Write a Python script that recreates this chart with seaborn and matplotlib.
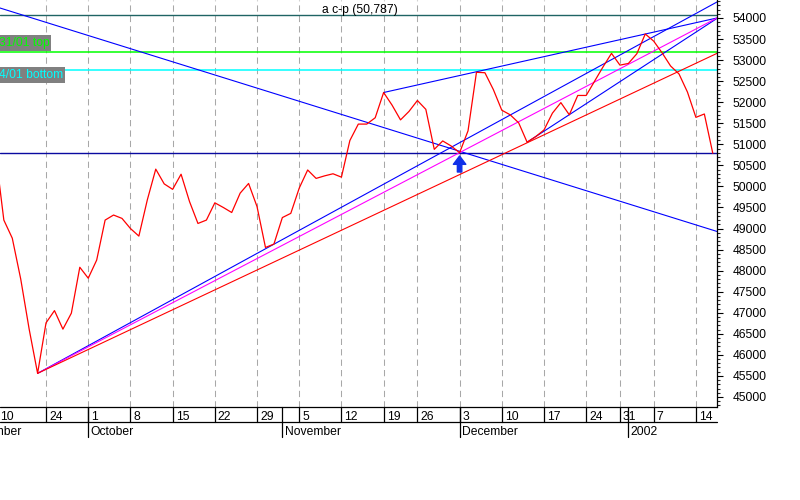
import numpy as np
import pandas as pd
import matplotlib
matplotlib.use("Agg")
import matplotlib.pyplot as plt
import matplotlib.transforms as mtransforms
import seaborn as sns

# ---------------- data ----------------
holidays = ["2001-11-22", "2001-12-25", "2002-01-01"]
first_day = ["2001-09-10"]
closes = [50830,
          49200, 48770, 47800, 46610, 45560,
          46760, 47050, 46610, 46990, 48080,
          47820, 48250, 49200, 49320, 49240,
          49000, 48820, 49680, 50410, 50060,
          49930, 50290, 49640, 49120, 49200,
          49610, 49500, 49380, 49840, 50070,
          49520, 48550, 48630, 49260, 49360,
          49960, 50390, 50190, 50250, 50300,
          50220, 51090, 51480, 51480, 51630,
          52230, 51930, 51580, 51780,
          52040, 51830, 50880, 51080, 50960,
          50800, 51320, 52710, 52700, 52300,
          51810, 51700, 51510, 51050, 51180,
          51340, 51740, 51990, 51700, 52160,
          52160, 52500, 52840, 53160,
          52880,
          52920, 53150, 53620,
          53450, 53170, 52860, 52670, 52240,
          51640, 51720, 50787]

week_ticks = ["2001-09-10", "2001-09-24", "2001-10-01", "2001-10-08", "2001-10-15",
              "2001-10-22", "2001-10-29", "2001-11-05", "2001-11-12", "2001-11-19",
              "2001-11-26", "2001-12-03", "2001-12-10", "2001-12-17", "2001-12-24",
              "2001-12-31", "2002-01-07", "2002-01-14"]
week_labels = ["10", "24", "1", "8", "15", "22", "29", "5", "12", "19", "26",
               "3", "10", "17", "24", "31", "7", "14"]
month_starts = ["2001-10-01", "2001-11-01", "2001-12-03", "2002-01-02"]
month_labels = ["October", "November", "December", "2002"]

# trend lines: (start index, start value, end index, end value)
trend_desc = (0.0, 54271, 85.5, 48930)
trend_steep = (5, 45560, 85.5, 54380)
trend_mid = (5, 45560, 85.5, 54000)
trend_low = (5, 45560, 85.5, 53160)
trend_upper = (46, 52230, 85.5, 54000)
trend_dec = (63, 51050, 85.5, 53990)

level_top_line = 54060
level_top = 53190
level_bottom = 52765
level_last = 50787

# ---------------- build ----------------
dates = pd.bdate_range("2001-09-17", "2002-01-16")
dates = dates[~dates.isin(pd.to_datetime(holidays))]
dates = pd.to_datetime(first_day).append(dates)
idx = np.arange(len(dates))
df = pd.DataFrame({"i": idx, "close": closes})
pos = {d: k for k, d in enumerate(dates)}
wk = [pos[pd.Timestamp(d)] for d in week_ticks]
ms = [pos[pd.Timestamp(d)] for d in month_starts]

sns.set_style("white")
plt.rcParams["font.family"] = ["Liberation Sans", "DejaVu Sans"]

W, H = 800, 500
fig = plt.figure(figsize=(8, 5), dpi=100)
ax = fig.add_axes([0, (H - 407) / H, 717 / W, 407 / H])

ax.set_xlim(0.545, 85.5)
ax.set_ylim(44761, 54427)

# vertical dashed grid
for k in wk:
    ax.axvline(k, color="#A8A8A8", lw=0.75, ls=(0, (6, 4)), zorder=0)

# horizontal levels
ax.axhline(level_top_line, color="#1F6464", lw=1.0)
ax.axhline(level_top, color="#00FF00", lw=1.1)
ax.axhline(level_bottom, color="#00FFFF", lw=1.1)
ax.axhline(level_last, color="#0A0AA0", lw=1.0)

def seg(t, color):
    ax.plot([t[0], t[2]], [t[1], t[3]], color=color, lw=0.8)

seg(trend_desc, "#0000FF")
seg(trend_steep, "#0000FF")
seg(trend_upper, "#0000FF")
seg(trend_dec, "#0000FF")
seg(trend_mid, "#FF00FF")
seg(trend_low, "#FF0000")

sns.lineplot(data=df, x="i", y="close", color="#FF0000", lw=0.9, ax=ax)

# arrow at the Dec 3 low
ax.annotate("", xy=(pos[pd.Timestamp("2001-12-03")], 50722),
            xytext=(pos[pd.Timestamp("2001-12-03")], 50342),
            arrowprops=dict(arrowstyle="simple,head_length=0.6,head_width=0.9,tail_width=0.32",
                            color="#1030E8", shrinkA=0, shrinkB=0, mutation_scale=10))

# labels
bt = mtransforms.blended_transform_factory(ax.transAxes, ax.transData)
ax.text(-0.002, 53406, "31/01 top", transform=bt, color="#00FF00", fontsize=8.7,
        va="center", ha="left", bbox=dict(fc="#808080", ec="none", pad=1.5))
ax.text(-0.002, 52646, "4/01 bottom", transform=bt, color="#00FFFF", fontsize=8.7,
        va="center", ha="left", bbox=dict(fc="#808080", ec="none", pad=1.5))
ax.text(0.5014, 54178, "a c-p (50,787)", transform=bt, fontsize=8.7,
        ha="center", va="center", color="black")

# y axis on the right
ax.yaxis.tick_right()
ax.set_yticks(np.arange(45000, 54001, 500))
ax.set_yticks(np.arange(44800, 54401, 100), minor=True)
ax.set_yticklabels([str(v) for v in range(45000, 54001, 500)])
ax.tick_params(axis="y", which="major", direction="out", length=4, width=0.8,
               pad=7, labelsize=8.7, colors="black", right=True, left=False)
ax.tick_params(axis="y", which="minor", direction="out", length=2.2, width=0.8,
               right=True, left=False)
ax.set_xticks([])
ax.set_xlabel("")
ax.set_ylabel("")
for s in ["left", "top", "bottom"]:
    ax.spines[s].set_visible(False)
ax.spines["right"].set_color("black")
ax.spines["right"].set_linewidth(0.9)

# x axis boxes (below the plot)
def fy(p):
    return 1 - p / H

tr = mtransforms.blended_transform_factory(ax.transData, fig.transFigure)
tra = mtransforms.blended_transform_factory(ax.transAxes, fig.transFigure)
for p in (407, 422):
    ax.plot([0, 1], [fy(p), fy(p)], transform=tra, color="black", lw=0.9, clip_on=False)
for n, (k, lab) in enumerate(zip(wk, week_labels)):
    ax.plot([k, k], [fy(407), fy(422)], transform=tr, color="black", lw=0.9, clip_on=False)
    off = 5 if n == 0 else 3
    ax.text(k, fy(420), lab, transform=mtransforms.offset_copy(tr, fig=fig, x=off, y=0, units="dots"),
            ha="left", va="baseline", fontsize=8.7, color="black", clip_on=False)
for k, lab in zip(ms, month_labels):
    ax.plot([k, k], [fy(407), fy(437)], transform=tr, color="black", lw=0.9, clip_on=False)
    ax.text(k, fy(435), lab, transform=mtransforms.offset_copy(tr, fig=fig, x=2.5, y=0, units="dots"),
            ha="left", va="baseline", fontsize=8.7, color="black", clip_on=False)
ax.text(3.15, fy(435), "September", transform=tr, ha="right", va="baseline",
        fontsize=8.7, color="black", clip_on=False)

fig.savefig("out.png", dpi=100)
